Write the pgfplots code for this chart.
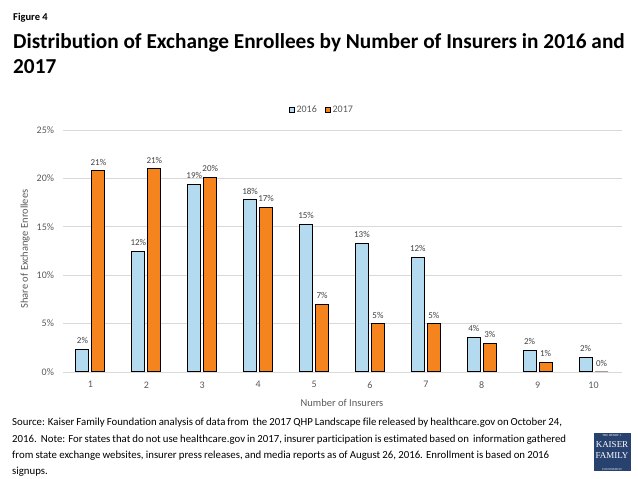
\documentclass[border=0pt]{standalone}
\usepackage{fontspec}
\setmainfont{Carlito}[Ligatures=NoCommon]
\newfontfamily\logofont{Liberation Serif}
\usepackage{pgfplots}
\pgfplotsset{compat=1.18}

\definecolor{blue16}{RGB}{180,218,240}
\definecolor{orange17}{RGB}{245,132,31}
\definecolor{gridgray}{RGB}{217,217,217}
\definecolor{ticktext}{RGB}{89,89,89}
\definecolor{labeltext}{RGB}{64,64,64}
\definecolor{kffblue}{RGB}{40,66,112}

% one line of the source note, stretched to a given width
\newcommand{\srcline}[2]{\hbox to #1{\spaceskip=0.22em plus 0.5em minus 0.12em\relax #2}}

\begin{document}
\begin{tikzpicture}
\path (0pt,0pt) rectangle (638pt,479pt);

% headings
\node[anchor=base west, inner sep=0pt, font=\bfseries\fontsize{10.5}{12}\selectfont] at (13pt,458.3pt) {Figure 4};
\node[anchor=base west, inner sep=0pt, font=\bfseries\fontsize{21.3}{25}\selectfont] at (13pt,430.7pt) {Distribution of Exchange Enrollees by Number of Insurers in 2016 and};
\node[anchor=base west, inner sep=0pt, font=\bfseries\fontsize{21.3}{25}\selectfont] at (13pt,405pt) {2017};

\begin{axis}[
    at={(62.5pt,107pt)}, anchor=south west,
    scale only axis,
    width=559pt, height=242pt,
    ybar=3pt, bar width=13pt,
    xmin=0.5, xmax=10.5,
    ymin=0, ymax=25,
    xtick={1,2,...,10},
    ytick={0,5,...,25},
    yticklabel={\pgfmathprintnumber{\tick}\%},
    /pgf/number format/assume math mode=true,
    ymajorgrids,
    grid style={gridgray, line width=0.8pt},
    axis line style={draw=none},
    major tick length=0pt,
    tick label style={font=\fontsize{10}{11}\selectfont, text=ticktext},
    yticklabel style={xshift=-5pt},
    xticklabel style={yshift=-6pt},
    xlabel={Number of Insurers},
    ylabel={Share of Exchange Enrollees},
    label style={font=\fontsize{10.5}{12}\selectfont, text=ticktext},
    xlabel style={at={(axis description cs:0.5,-0.128)}, anchor=center},
    ylabel style={at={(axis description cs:-0.067,0.508)}, anchor=center},
    nodes near coords={\pgfmathprintnumber[fixed,precision=0]{\pgfplotspointmeta}\%},
    nodes near coords style={font=\fontsize{9}{10}\selectfont, text=labeltext, anchor=south, inner sep=0pt, yshift=5pt},
    legend columns=2,
    legend style={at={(0.464,1.084)}, anchor=center, draw=none, fill=none,
        font=\fontsize{10}{11}\selectfont, text=ticktext,
        /tikz/every even column/.append style={column sep=6pt},
        inner sep=0pt},
    legend image code/.code={\draw[#1, draw=black, line width=0.6pt] (0pt,-2.6pt) rectangle (5.2pt,2.6pt);},
]
\addplot[fill=blue16, draw=black, line width=1pt] coordinates {
    (1,2.34) (2,12.47) (3,19.38) (4,17.8) (5,15.25)
    (6,13.3) (7,11.85) (8,3.58) (9,2.27) (10,1.52)
};
\addplot[fill=orange17, draw=black, line width=1pt] coordinates {
    (1,20.8) (2,21.0) (3,20.1) (4,17.0) (5,7.0)
    (6,5.0) (7,5.0) (8,2.96) (9,1.0) (10,0)
};
\legend{2016,2017}
\end{axis}

% source note
\begin{scope}[every node/.style={anchor=base west, inner sep=0pt, font=\fontsize{10.8}{12}\selectfont}]
\node at (12pt,53pt) {\srcline{550pt}{Source: Kaiser Family Foundation analysis of data from\ \ the 2017 QHP Landscape file released by healthcare.gov on October 24,}};
\node at (12pt,36pt) {\srcline{554pt}{2016.\ \ Note: For states that do not use healthcare.gov in 2017, insurer participation is estimated based on\ \ information gathered}};
\node at (12pt,20pt) {\srcline{537pt}{from state exchange websites, insurer press releases, and media reports as of August 26, 2016. Enrollment is based on 2016}};
\node at (12pt,4pt) {signups.};
\end{scope}

% logo
\node[fill=kffblue, minimum width=37pt, minimum height=38pt, inner sep=0pt] (logo) at (612pt,26.5pt) {};
\node[text=white, align=center, inner sep=0pt, font=\logofont] at (logo.center) {%
  {\fontsize{3}{4}\selectfont THE HENRY J.}\\[-0.5pt]
  {\fontsize{9}{9}\selectfont KAISER}\\[-1pt]
  {\fontsize{9}{9}\selectfont FAMILY}\\[-0.5pt]
  {\fontsize{3}{4}\selectfont FOUNDATION}};
\end{tikzpicture}
\end{document}
